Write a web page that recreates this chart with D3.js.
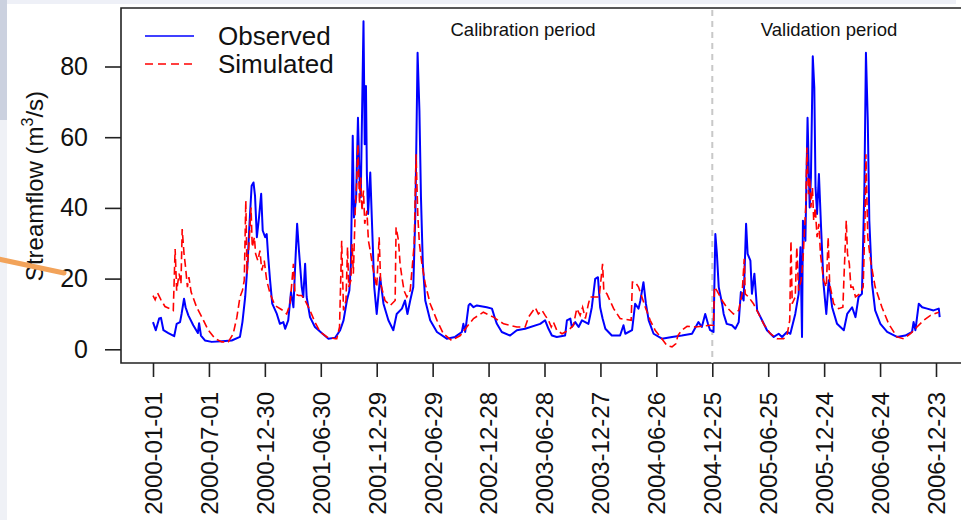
<!DOCTYPE html>
<html>
<head>
<meta charset="utf-8">
<script src="https://cdn.jsdelivr.net/npm/d3@7"></script>
<style>
  body { margin: 0; background: #fff; }
  text { font-family: "Liberation Sans", Arial, Helvetica, sans-serif; fill: #111; }
</style>
</head>
<body>
<div id="chart"></div>
<script>
// Tick labels (every 182 days) and y ticks
var xTickLabels = ["2000-01-01", "2000-07-01", "2000-12-30", "2001-06-30", "2001-12-29",
  "2002-06-29", "2002-12-28", "2003-06-28", "2003-12-27", "2004-06-26", "2004-12-25",
  "2005-06-25", "2005-12-24", "2006-06-24", "2006-12-23"];
var yTicks = [0, 20, 40, 60, 80];
var splitDate = "2004-12-25";
var periodLabels = ["Calibration period", "Validation period"];

// Observed streamflow: days since 2000-01-01 and value (m3/s)
var obsDay = [0, 9, 20, 26, 34, 50, 69, 77, 88, 93, 101, 106, 115, 131, 146, 150, 156, 169, 191, 224,
  256, 283, 291, 300, 308, 314, 321, 327, 332, 338, 345, 352, 357, 365, 370, 375, 381, 388, 403, 413,
  424, 430, 440, 449, 457, 462, 469, 475, 484, 489, 495, 500, 511, 527, 549, 571, 593, 609, 620, 631,
  639, 644, 650, 654, 661, 667, 672, 676, 685, 689, 693, 696, 700, 707, 712, 720, 728, 739, 750, 766,
  782, 793, 810, 820, 828, 837, 847, 854, 861, 867, 872, 878, 886, 902, 924, 956, 983, 1005, 1010, 1016,
  1027, 1032, 1043, 1054, 1086, 1103, 1113, 1119, 1135, 1162, 1184, 1211, 1260, 1276, 1287, 1298, 1314, 1341, 1347, 1358,
  1363, 1374, 1385, 1396, 1417, 1428, 1439, 1448, 1455, 1463, 1472, 1493, 1520, 1531, 1537, 1559, 1569, 1580, 1586, 1596,
  1604, 1613, 1629, 1656, 1689, 1721, 1754, 1775, 1786, 1797, 1806, 1813, 1824, 1830, 1835, 1841, 1852, 1857, 1867, 1884,
  1895, 1906, 1913, 1922, 1930, 1935, 1944, 1949, 1957, 1966, 1982, 1998, 2020, 2036, 2047, 2063, 2074, 2090, 2101, 2107,
  2112, 2115, 2123, 2130, 2137, 2141, 2147, 2152, 2156, 2161, 2167, 2174, 2182, 2191, 2199, 2210, 2226, 2248, 2259, 2275,
  2286, 2296, 2307, 2315, 2320, 2326, 2331, 2340, 2350, 2367, 2389, 2421, 2448, 2470, 2475, 2481, 2492, 2503, 2519, 2540,
  2557, 2560];
var obsFlow = [7.7, 5.4, 8.7, 8.9, 5.4, 4.6, 3.7, 7.2, 7.7, 10, 14.3, 11.9, 9.6, 6.8, 4.6, 7.4, 3.9, 2.5, 2.1, 2.3,
  2.5, 3.5, 7.7, 14.8, 24.6, 35.5, 46.3, 47.2, 43.4, 31.7, 37.3, 44, 33.6, 31.7, 32.6, 26, 19.5, 12.9, 10, 7.2,
  7.7, 5.8, 8.2, 16.2, 11.9, 22.3, 35.5, 27.9, 17.6, 14.8, 24.2, 14.8, 9.1, 6.3, 4.6, 3, 3.3, 5.4, 8.2, 13.8,
  16.6, 24.2, 60.4, 37.3, 43, 65.5, 48.6, 43, 92.8, 58, 74.5, 49.6, 38.3, 50, 37.3, 17.6, 10, 20.4, 12.9, 8.2,
  5.4, 10, 11.5, 13.8, 10, 13.8, 17.6, 39.2, 83.9, 67.4, 43, 24.2, 13.8, 8.2, 4.9, 3, 3.5, 4.9, 7.2, 4.9,
  12.4, 12.9, 11.9, 12.4, 11.9, 11.5, 8.7, 7.2, 4.9, 3.9, 5.4, 5.8, 7.2, 8.2, 5.8, 3.9, 3.5, 3.9, 8.2, 8.7,
  6.3, 7.7, 6.3, 8.2, 7.2, 11.9, 19.9, 20.4, 11.9, 8.7, 5.8, 3.9, 3.9, 6.8, 4.4, 5.4, 12.9, 11.5, 13.8, 19,
  12.9, 8.2, 4.4, 3, 3.5, 3.9, 4.4, 7.7, 6.3, 10, 7.2, 5.4, 4.9, 32.6, 27, 17.6, 12.9, 10, 7.2, 6.8,
  5.8, 7.7, 16.2, 13.8, 35.5, 27, 25.1, 15.7, 21.4, 11, 8.2, 5.4, 3.5, 4.4, 3.5, 4.9, 4.4, 10, 15.7, 28.9,
  3.5, 36.4, 30.7, 65.5, 40.1, 48.6, 82.9, 74, 45.8, 38.3, 49.6, 34.5, 18.5, 10, 19.5, 11.9, 7.2, 5.4, 10, 11.9,
  9.1, 14.8, 15.7, 45.8, 83.9, 64.6, 36.4, 18.5, 11, 7.2, 4.9, 3.5, 3.9, 4.9, 7.7, 5.4, 12.9, 11.9, 11.5, 11,
  11.5, 9.1];

// Simulated streamflow
var simDay = [0, 7, 15, 26, 39, 55, 66, 72, 77, 85, 91, 95, 101, 106, 112, 117, 124, 142, 159, 180,
  202, 224, 245, 261, 273, 283, 291, 297, 302, 306, 313, 319, 323, 330, 334, 341, 348, 354, 362, 370,
  381, 397, 419, 435, 446, 457, 462, 473, 484, 495, 511, 527, 544, 566, 593, 598, 607, 614, 620, 628,
  633, 637, 644, 648, 652, 658, 663, 667, 672, 676, 680, 685, 689, 696, 701, 707, 715, 728, 736, 741,
  755, 772, 788, 791, 799, 804, 810, 817, 826, 837, 850, 856, 862, 867, 875, 886, 902, 924, 945, 972,
  1000, 1021, 1043, 1075, 1108, 1141, 1184, 1211, 1222, 1233, 1244, 1254, 1266, 1276, 1287, 1296, 1303, 1314, 1331, 1352,
  1368, 1379, 1390, 1398, 1407, 1417, 1423, 1452, 1463, 1467, 1477, 1499, 1520, 1556, 1560, 1569, 1580, 1591, 1602, 1618,
  1634, 1656, 1672, 1689, 1702, 1708, 1721, 1738, 1765, 1786, 1813, 1824, 1827, 1835, 1852, 1867, 1889, 1906, 1917, 1924,
  1927, 1938, 1954, 1971, 1987, 2009, 2031, 2052, 2063, 2072, 2076, 2080, 2090, 2095, 2101, 2109, 2115, 2120, 2124, 2128,
  2133, 2137, 2141, 2146, 2150, 2155, 2161, 2167, 2172, 2182, 2191, 2197, 2202, 2215, 2231, 2245, 2249, 2256, 2260, 2266,
  2271, 2278, 2286, 2300, 2311, 2317, 2320, 2326, 2335, 2350, 2372, 2394, 2421, 2443, 2465, 2486, 2508, 2530, 2557];
var simFlow = [15.2, 14, 15.9, 14, 12.1, 11.5, 11, 28.4, 16.6, 21.4, 18.5, 34, 27, 23.2, 17.6, 20.4, 16.2, 11.9, 9.1, 5.4,
  3, 2.1, 2.1, 4.4, 9.1, 14.8, 16.6, 19.5, 42, 21.4, 30.7, 40.1, 28.9, 31.7, 27, 25.1, 27.9, 22.3, 25.1, 19.5,
  15.7, 12.4, 11.2, 10, 12.9, 24.2, 15.7, 15.2, 15.2, 13.8, 11, 7.7, 4.9, 3.5, 3, 3, 6.3, 30.7, 11, 13.8,
  28.9, 17.6, 19.5, 29.8, 21.4, 39.2, 47.7, 58, 41.1, 48.6, 39.2, 44.9, 35.5, 39.2, 30.7, 27.9, 23.2, 17.6, 31.7, 18.5,
  13.8, 12.4, 13.8, 34.5, 30.7, 24.2, 20.4, 16.6, 14.8, 16.6, 29.8, 55.2, 37.3, 29.8, 24.2, 18.5, 12.9, 8.2, 4.4, 2.5,
  3.9, 6.3, 8.7, 10.5, 9.1, 7.2, 6.3, 6.3, 9.1, 10.5, 11.8, 10, 11, 9.6, 8.2, 6.3, 7.7, 5.4, 4.4, 5.4,
  6.8, 11.5, 9.6, 11.9, 8.7, 12.9, 14.8, 14.8, 24.2, 16.6, 15.7, 11.5, 8.7, 8.2, 19, 19, 17.6, 14.8, 11.9, 8.2,
  5.4, 3, 1.1, 0.7, 1.6, 3.9, 5.4, 6.5, 6.3, 6.5, 6.8, 6.8, 17.6, 16.6, 13.8, 11.9, 10, 11, 15.7, 25.6,
  15.7, 14.8, 12.9, 10, 7.2, 4.4, 3, 3, 3.9, 8.2, 30.7, 12.9, 14.8, 28.9, 16.6, 19.5, 25.1, 33.6, 40.1, 57.1,
  43.9, 48.6, 40.1, 45.8, 36.4, 40.1, 31.7, 35.5, 27, 19.5, 17.6, 31.7, 18.5, 12.9, 11.5, 11.9, 21.4, 36.4, 27, 24.2,
  17.6, 17.6, 14.8, 15.7, 17.6, 36.4, 55.2, 31.7, 25.1, 17.6, 11.9, 7.2, 3.5, 3, 4.4, 6.3, 8.2, 9.6, 10.5];

var width = 961, height = 520;
var box = {left: 121, top: 8, bottom: 363};

var parse = d3.utcParse("%Y-%m-%d");
var start = parse("2000-01-01");

var svg = d3.select("#chart")
  .append("svg")
    .attr("width", width)
    .attr("height", height);

// Slide background bits around the plot
svg.append("rect").attr("x", 0).attr("y", 0).attr("width", 956).attr("height", 4).attr("fill", "#eef0f7");
svg.append("rect").attr("x", 0).attr("y", 0).attr("width", 7).attr("height", 120).attr("fill", "#cbd1df");
svg.append("rect").attr("x", 0).attr("y", 120).attr("width", 7).attr("height", 400).attr("fill", "#eff1f6");

var x = d3.scaleUtc()
  .domain([parse(xTickLabels[0]), parse(xTickLabels[xTickLabels.length - 1])])
  .range([153, 936]);

var y = d3.scaleLinear()
  .domain([0, 80])
  .range([349.3, 66.5]);

// Frame (right side runs off the picture)
svg.append("path")
  .attr("d", "M" + (width + 10) + "," + box.top + "H" + box.left + "V" + box.bottom + "H" + (width + 10))
  .attr("fill", "none")
  .attr("stroke", "#222")
  .attr("stroke-width", 1.6);

// Y axis
var yAxis = svg.append("g").attr("transform", "translate(" + box.left + ",0)")
  .call(d3.axisLeft(y).tickValues(yTicks).tickSize(16).tickPadding(17));
yAxis.select(".domain").remove();
yAxis.selectAll("line").attr("stroke", "#222").attr("stroke-width", 1.6);
yAxis.selectAll("text").attr("font-size", 25).attr("font-family", "Liberation Sans, Arial, sans-serif").attr("fill", "#111");

// X axis: ticks and vertical labels
var xAxis = svg.append("g").attr("transform", "translate(0," + box.bottom + ")")
  .call(d3.axisBottom(x).tickValues(xTickLabels.map(parse)).tickSize(14)
    .tickFormat(d3.utcFormat("%Y-%m-%d")));
xAxis.select(".domain").remove();
xAxis.selectAll("line").attr("stroke", "#222").attr("stroke-width", 1.6);
xAxis.selectAll("text")
  .attr("font-size", 24)
  .attr("font-family", "Liberation Sans, Arial, sans-serif")
  .attr("fill", "#111")
  .attr("text-anchor", "end")
  .attr("transform", "translate(0,29) rotate(-90)")
  .attr("x", 0)
  .attr("y", 0)
  .attr("dy", "0.35em");

// Y label
var yl = svg.append("text")
  .attr("transform", "translate(43,186) rotate(-90)")
  .attr("text-anchor", "middle")
  .attr("font-size", 24);
yl.append("tspan").text("Streamflow (m");
yl.append("tspan").attr("font-size", 16).attr("dy", -10).text("3");
yl.append("tspan").attr("dy", 10).text("/s)");

// Split between calibration and validation
svg.append("line")
  .attr("x1", x(parse(splitDate))).attr("x2", x(parse(splitDate)))
  .attr("y1", box.top + 2).attr("y2", box.bottom)
  .attr("stroke", "#c8c8c8")
  .attr("stroke-width", 2)
  .attr("stroke-dasharray", "6,5");

svg.append("text").attr("x", 523).attr("y", 36).attr("text-anchor", "middle")
  .attr("font-size", 18.5).text(periodLabels[0]);
svg.append("text").attr("x", 829).attr("y", 36).attr("text-anchor", "middle")
  .attr("font-size", 18.5).text(periodLabels[1]);

// Series lines
var line = d3.line()
  .x(function(d) { return x(d3.utcDay.offset(start, d[0])); })
  .y(function(d) { return y(d[1]); });

var obs = obsDay.map(function(d, i) { return [d, obsFlow[i]]; });
var sim = simDay.map(function(d, i) { return [d, simFlow[i]]; });

svg.append("path")
  .datum(obs)
  .attr("d", line)
  .attr("fill", "none")
  .attr("stroke", "#0000ff")
  .attr("stroke-width", 2)
  .attr("stroke-linejoin", "round");

svg.append("path")
  .datum(sim)
  .attr("d", line)
  .attr("fill", "none")
  .attr("stroke", "#ff0000")
  .attr("stroke-width", 1.6)
  .attr("stroke-dasharray", "8,4");

// Legend
var legend = [
  {name: "Observed", color: "#0000ff", dash: null, y: 36},
  {name: "Simulated", color: "#ff0000", dash: "8,5", y: 64}
];
legend.forEach(function(l) {
  svg.append("line")
    .attr("x1", 145).attr("x2", 194).attr("y1", l.y).attr("y2", l.y)
    .attr("stroke", l.color).attr("stroke-width", 1.5)
    .attr("stroke-dasharray", l.dash);
  svg.append("text")
    .attr("x", 218).attr("y", l.y + 9)
    .attr("font-size", 26)
    .text(l.name);
});

// Orange pointer stroke from the slide
svg.append("line")
  .attr("x1", -2).attr("y1", 259).attr("x2", 64).attr("y2", 273)
  .attr("stroke", "#f2a35a")
  .attr("stroke-width", 5)
  .attr("stroke-linecap", "round");
</script>
</body>
</html>
